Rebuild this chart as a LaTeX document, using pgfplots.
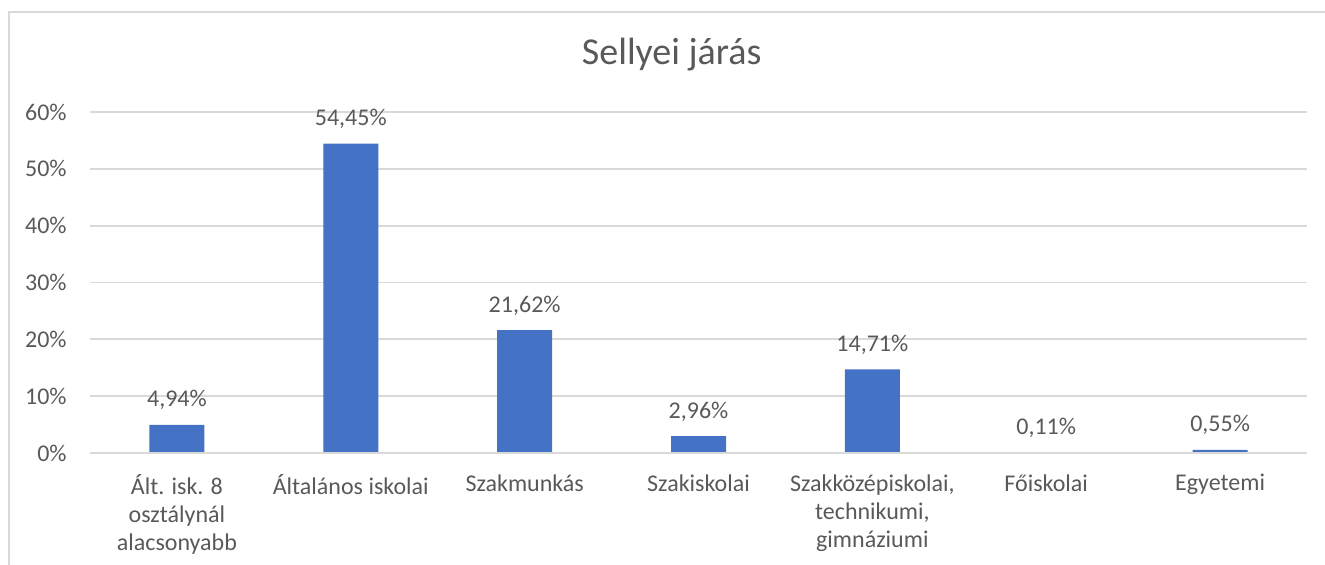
\documentclass[border=0pt]{standalone}
\usepackage{pgfplots}
\pgfplotsset{compat=1.18}
\usepackage{fontspec}
\setmainfont{Carlito}
\definecolor{barblue}{HTML}{4472C4}
\definecolor{txtgray}{HTML}{595959}
\definecolor{gridgray}{HTML}{D9D9D9}
\begin{document}
\begin{tikzpicture}
\begin{axis}[
  at={(0,0)}, anchor=south west,
  scale only axis, width=608.5pt, height=170.5pt,
  ybar, bar width=27.5pt,
  xmin=-0.5, xmax=6.5, ymin=0, ymax=60,
  xtick=data,
  xticklabels={{Ált. isk. 8\\osztálynál\\alacsonyabb},{Általános iskolai},{Szakmunkás},{Szakiskolai},{Szakközépiskolai,\\technikumi,\\gimnáziumi},{Főiskolai},{Egyetemi}},
  ytick={0,10,...,60},
  yticklabel={\pgfmathprintnumber{\tick}\%},
  /pgf/number format/assume math mode=true,
  major tick length=0pt,
  axis line style={draw=none},
  ymajorgrids, grid style={gridgray, line width=0.9pt},
  tick label style={font=\fontsize{12}{14}\selectfont, text=txtgray},
  yticklabel style={anchor=east, inner sep=0pt, xshift=-11.5pt},
  xticklabel style={align=center, anchor=north, inner sep=0pt, yshift=-10.5pt},
  title={Sellyei járás},
  title style={at={(axis description cs:0.478,1.104)}, anchor=base, font=\fontsize{19}{23}\selectfont, text=txtgray},
  nodes near coords={\pgfmathprintnumber[fixed,fixed zerofill,precision=2,use comma]{\pgfplotspointmeta}\%},
  every node near coord/.append style={font=\fontsize{12}{14}\selectfont, text=txtgray, anchor=base, yshift=9pt},
]
\addplot[fill=barblue, draw=none] coordinates
{(0,4.94)(1,54.45)(2,21.62)(3,2.96)(4,14.71)(5,0.11)(6,0.55)};
\draw[gridgray, line width=0.9pt] (rel axis cs:0,0) -- (rel axis cs:1,0);
\end{axis}
\draw[gridgray, line width=1pt] (-40.5pt,-70pt) -- (-40.5pt,220.5pt) -- (630pt,220.5pt);
\pgfresetboundingbox
\path[use as bounding box] (-45pt,-56pt) rectangle (617.5pt,226.5pt);
\end{tikzpicture}
\end{document}
